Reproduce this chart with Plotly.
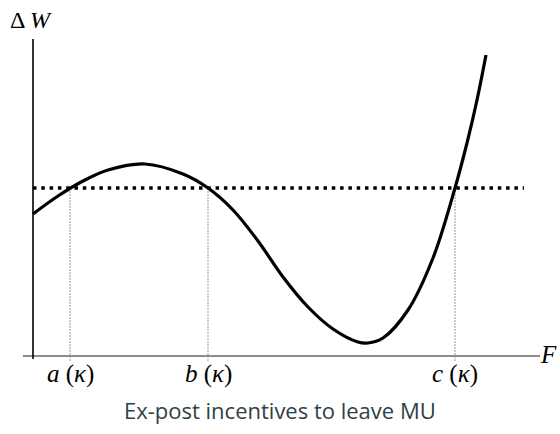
import plotly.graph_objects as go

# Welfare difference curve ΔW(F), sampled points
F_vals = [0.0, 0.5, 1.0, 1.5, 2.24, 3.0, 3.5, 4.0, 4.5, 5.0, 5.5, 6.0,
          6.5, 6.7, 7.0, 7.5, 8.0, 8.44, 8.68, 8.88, 9.06]
W_vals = [2.84, 3.20, 3.50, 3.72, 3.84, 3.64, 3.36, 2.92, 2.30, 1.58, 0.98, 0.54,
          0.28, 0.26, 0.36, 0.92, 1.96, 3.36, 4.26, 5.12, 6.02]

# Threshold level and its crossings
threshold = 3.36
threshold_span = [0.0, 9.82]
cutoffs = [0.74, 3.5, 8.44]
cutoff_names = ["a", "b", "c"]

# Axis extents
x_axis_span = [-0.2, 10.14]
y_axis_span = [-0.06, 6.34]

fig = go.Figure()

# Horizontal axis (F)
fig.add_trace(go.Scatter(x=x_axis_span, y=[0, 0], mode="lines",
                         line=dict(color="#8c8c8c", width=2), hoverinfo="skip"))
# Vertical axis (ΔW)
fig.add_trace(go.Scatter(x=[0, 0], y=y_axis_span, mode="lines",
                         line=dict(color="black", width=1.6), hoverinfo="skip"))

# Drop lines from each crossing to the F axis
for c in cutoffs:
    fig.add_trace(go.Scatter(x=[c, c], y=[threshold, -0.12], mode="lines",
                             line=dict(color="#9a9a9a", width=1, dash="2px,1px"),
                             hoverinfo="skip"))

# Threshold line
fig.add_trace(go.Scatter(x=threshold_span, y=[threshold, threshold], mode="lines",
                         line=dict(color="black", width=3.5, dash="3.5px,4.8px"),
                         hoverinfo="skip"))

# ΔW curve
fig.add_trace(go.Scatter(x=F_vals, y=W_vals, mode="lines",
                         line=dict(color="black", width=3.2, shape="spline", smoothing=1.0),
                         hoverinfo="skip"))

serif = "Liberation Serif"
annotations = []
for c, name in zip(cutoffs, cutoff_names):
    annotations.append(dict(x=c, y=-0.36, xref="x", yref="y",
                            text=f"<i>{name}</i> (<i>κ</i>)", showarrow=False,
                            font=dict(family=serif, size=25, color="black")))
annotations.append(dict(x=10.3, y=0.04, xref="x", yref="y", text="<i>F</i>",
                        showarrow=False, xanchor="center",
                        font=dict(family=serif, size=25, color="black")))
annotations.append(dict(x=-0.5, y=6.72, xref="x", yref="y", text="Δ <i>W</i>",
                        showarrow=False, xanchor="left",
                        font=dict(family=serif, size=24, color="black")))
annotations.append(dict(x=0.5, y=(356 - 410) / 50.0, xref="paper", yref="y",
                        text="Ex-post incentives to leave MU",
                        showarrow=False, font=dict(family="Open Sans", size=22, color="#2f3f45")))

fig.update_layout(
    width=560, height=434,
    margin=dict(l=0, r=0, t=0, b=0),
    paper_bgcolor="white", plot_bgcolor="white",
    showlegend=False,
    xaxis=dict(range=[-0.66, 10.54], visible=False, fixedrange=True),
    yaxis=dict(range=[-1.56, 7.12], visible=False, fixedrange=True),
    annotations=annotations,
)

fig.write_html("out.html")
